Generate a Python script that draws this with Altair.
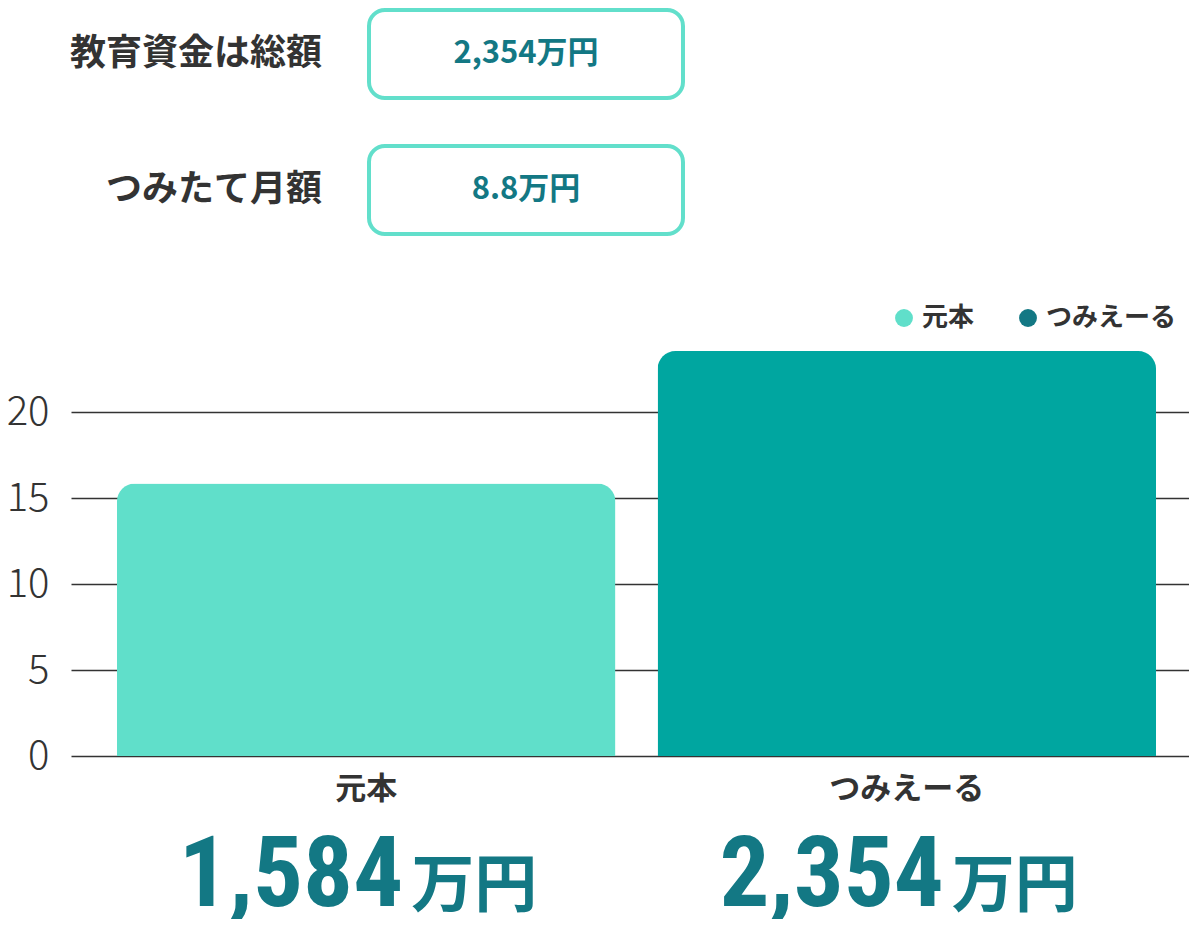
import altair as alt
import pandas as pd

# ---- data ----
categories = ["元本", "つみえーる"]
values = [15.84, 23.54]                 # 単位: 100万円
big_numbers = ["1,584", "2,354"]
units = ["万円", "万円"]
bar_colors = ["#60dfca", "#00a6a0"]
legend_colors = ["#60dfca", "#137884"]

header_labels = ["教育資金は総額", "つみたて月額"]
header_values = ["2,354万円", "8.8万円"]
header_rows = [0, 1]

y_ticks = [0, 5, 10, 15, 20]

df = pd.DataFrame({
    "cat": categories,
    "value": values,
    "num": big_numbers,
    "unit": units,
    "color": bar_colors,
})
hdr = pd.DataFrame({"label": header_labels, "val": header_values, "row": header_rows})

FONT = "Noto Sans CJK JP"
TEAL_DARK = "#137884"

base = alt.Chart(df).encode(
    x=alt.X(
        "cat:N",
        sort=categories,
        scale=alt.Scale(range=[0, 1131], paddingInner=0.078, paddingOuter=0.085),
        axis=alt.Axis(
            title=None, labelAngle=0, domain=False, ticks=False,
            labelFontSize=31, labelFontWeight="bold", labelColor="#333333",
            labelPadding=18, labelFont=FONT,
        ),
    )
)

bars = base.mark_bar(cornerRadiusTopLeft=18, cornerRadiusTopRight=18).encode(
    y=alt.Y(
        "value:Q",
        scale=alt.Scale(domain=[0, 25], nice=False),
        axis=alt.Axis(
            title=None, values=y_ticks, domain=False, ticks=False,
            grid=True, gridColor="#333333", gridWidth=1.5,
            labelFontSize=40, labelColor="#333333", labelPadding=22,
            labelFont=FONT, labelFontWeight=300,
        ),
    ),
    fill=alt.Fill("color:N", scale=None),
)

legend_layer = base.mark_point(filled=True, opacity=0).encode(
    y=alt.Y("value:Q"),
    color=alt.Color(
        "cat:N",
        sort=categories,
        scale=alt.Scale(domain=categories, range=legend_colors),
        legend=alt.Legend(
            title=None, orient="none", legendX=820, legendY=-21,
            direction="horizontal", symbolType="circle", symbolSize=320,
            symbolOpacity=1, symbolStrokeWidth=0,
            labelFontSize=26, labelFontWeight="bold", labelColor="#333333",
            labelFont=FONT, labelOffset=5, columnPadding=40,
        ),
    ),
)

nums = base.mark_text(
    align="right", baseline="alphabetic", dx=37,
    font="Liberation Sans Narrow, Roboto Condensed, Liberation Sans",
    fontSize=99, fontWeight="bold", color=TEAL_DARK,
).encode(text="num:N", y=alt.value(580))

unit_text = base.mark_text(
    align="left", baseline="alphabetic", dx=45,
    font=FONT, fontSize=63, fontWeight="bold", color=TEAL_DARK,
).encode(text="unit:N", y=alt.value(580))

hbase = alt.Chart(hdr).transform_calculate(
    yc="-272 + 136 * datum.row",
    ytop="-316 + 136 * datum.row",
    ybot="-228 + 136 * datum.row",
)

boxes = hbase.mark_rect(
    cornerRadius=16, fill="white", stroke="#62dfcb", strokeWidth=4
).encode(
    x=alt.value(298), x2=alt.value(612),
    y=alt.Y("ytop:Q", scale=None, axis=None), y2="ybot:Q",
)

hlabels = hbase.mark_text(
    align="right", baseline="middle", font=FONT, fontSize=36,
    fontWeight="bold", color="#333333",
).encode(x=alt.value(251), y=alt.Y("yc:Q", scale=None, axis=None), text="label:N")

hvalues = hbase.mark_text(
    align="center", baseline="middle", font=FONT, fontSize=31,
    fontWeight="bold", color=TEAL_DARK,
).encode(x=alt.value(455), y=alt.Y("yc:Q", scale=None, axis=None), text="val:N")

chart = alt.layer(bars, legend_layer, nums, unit_text, boxes, hlabels, hvalues).properties(
    width=1118,
    height=430,
    autosize=alt.AutoSizeParams(type="none"),
    padding={"left": 63, "top": 318, "right": 0, "bottom": 163},
    background="white",
).configure(font=FONT).configure_view(stroke=None)

chart.save("out.html", embed_options={"renderer": "svg", "actions": False})
